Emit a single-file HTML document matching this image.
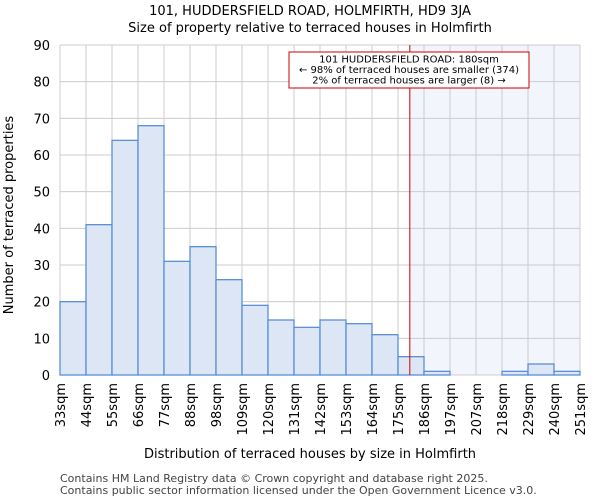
<!DOCTYPE html>
<html><head><meta charset="utf-8"><style>
body{margin:0;background:#fff;font-family:"DejaVu Sans","Liberation Sans",sans-serif}
</style></head><body>
<svg id="c" width="600" height="500" xmlns="http://www.w3.org/2000/svg" font-family="DejaVu Sans, Liberation Sans, sans-serif">
<text x="310" y="15" text-anchor="middle" font-size="13">101, HUDDERSFIELD ROAD, HOLMFIRTH, HD9 3JA</text>
<text x="310" y="32" text-anchor="middle" font-size="13">Size of property relative to terraced houses in Holmfirth</text>
<g id="plot"></g>
<text x="310" y="458" text-anchor="middle" font-size="13">Distribution of terraced houses by size in Holmfirth</text>
<text transform="translate(13,215) rotate(-90)" text-anchor="middle" font-size="13">Number of terraced properties</text>
<text x="60" y="482" font-size="11" fill="#444">Contains HM Land Registry data © Crown copyright and database right 2025.</text>
<text x="60" y="494" font-size="11" fill="#444">Contains public sector information licensed under the Open Government Licence v3.0.</text>
</svg>
<script>
const categories=["33sqm","44sqm","55sqm","66sqm","77sqm","88sqm","98sqm","109sqm","120sqm","131sqm","142sqm","153sqm","164sqm","175sqm","186sqm","197sqm","207sqm","218sqm","229sqm","240sqm","251sqm"];
const counts=[20,41,64,68,31,35,26,19,15,13,15,14,11,5,1,0,0,1,3,1];
const yTicks=[0,10,20,30,40,50,60,70,80,90];
const markerIndex=13+5/11;
const NS="http://www.w3.org/2000/svg";
const L=60,R=580,T=45,B=375,yMax=90;
const bw=(R-L)/counts.length;
const xs=i=>L+i*bw, ys=v=>B-(v/yMax)*(B-T);
const g=document.getElementById('plot');
function mk(t,a){const e=document.createElementNS(NS,t);for(const k in a)e.setAttribute(k,a[k]);g.appendChild(e);return e;}
const mx=xs(markerIndex);
let e=mk('rect',{x:mx,y:T,width:R-mx,height:B-T,fill:'#f3f5fd'});


yTicks.forEach(t=>{const l=mk('line',{x1:L,x2:R,y1:ys(t),y2:ys(t),stroke:'#ccc','stroke-width':1});


const tx=mk('text',{x:L-10,y:ys(t)+5,'text-anchor':'end','font-size':13});tx.textContent=t;

});
categories.forEach((c,i)=>{const l=mk('line',{x1:xs(i),x2:xs(i),y1:T,y2:B,stroke:'#ccc','stroke-width':1});


const tx=mk('text',{transform:`translate(${xs(i)+5},${B+8}) rotate(-90)`,'text-anchor':'end','font-size':13});tx.textContent=c;

});
counts.forEach((v,i)=>{const r=mk('rect',{x:xs(i),y:ys(v),width:bw,height:B-ys(v),fill:'#dce6f4',stroke:'#5b8fd6','stroke-width':1.3});

});
e=mk('line',{x1:mx,x2:mx,y1:T,y2:B,stroke:'#c00','stroke-width':1});


e=mk('rect',{x:289,y:52,width:240,height:36,fill:'#fff',stroke:'#c00','stroke-width':1});


["101 HUDDERSFIELD ROAD: 180sqm","← 98% of terraced houses are smaller (374)","2% of terraced houses are larger (8) →"].forEach((s,k)=>{
const t=mk('text',{x:409,y:62.5+k*10.5,'text-anchor':'middle','font-size':10});t.textContent=s;

});
</script>
</body></html>
